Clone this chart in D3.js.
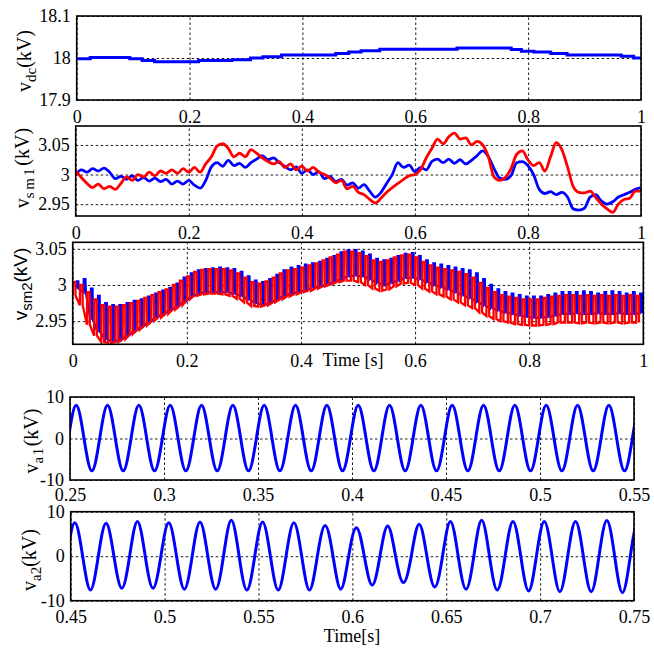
<!DOCTYPE html>
<html>
<head>
<meta charset="utf-8">
<script src="https://cdn.jsdelivr.net/npm/d3@7"></script>
<style>
  body { margin: 0; background: #fff; }
</style>
</head>
<body>
<svg width="654" height="648"></svg>
<script>
// ---- data ----
// v_dc: stair steps (time, kV)
let vdcT = [0, 0.024, 0.094, 0.116, 0.138, 0.216, 0.275, 0.308, 0.33, 0.363, 0.459, 0.482, 0.504, 0.537, 0.674, 0.77, 0.788, 0.81, 0.84, 0.869, 0.965, 0.987, 1],
    vdcV = [17.998, 18.001, 17.998, 17.994, 17.991, 17.994, 17.996, 18.0, 18.003, 18.007, 18.011, 18.014, 18.017, 18.021, 18.024, 18.02, 18.016, 18.014, 18.011, 18.007, 18.004, 18.0, 18.0];

// v_sm1: sampled every 10 ms
let sm1Step = 0.01;
let sm1Blue = [3.000, 3.008, 3.004, 3.010, 3.006, 3.011, 3.004, 2.993, 2.997, 2.992,
               2.998, 2.990, 2.995, 2.989, 2.994, 2.988, 2.992, 2.984, 2.989, 2.984,
               2.990, 2.982, 2.977, 2.990, 3.013, 3.020, 3.014, 3.024, 3.015, 3.019,
               3.012, 3.020, 3.026, 3.032, 3.025, 3.028, 3.020, 3.014, 3.008, 3.013,
               3.002, 3.008, 3.000, 3.005, 2.993, 2.997, 2.988, 2.992, 2.982, 2.986,
               2.977, 2.983, 2.972, 2.962, 2.970, 2.985, 3.000, 3.020, 3.012, 3.016,
               3.005, 3.012, 3.008, 3.022, 3.026, 3.020, 3.026, 3.019, 3.025, 3.018,
               3.024, 3.032, 3.040, 3.030, 3.010, 2.994, 2.992, 2.998, 3.020, 3.022,
               3.015, 3.000, 2.975, 2.968, 2.971, 2.966, 2.970, 2.962, 2.942, 2.940,
               2.943, 2.962, 2.966, 2.955, 2.950, 2.954, 2.962, 2.966, 2.970, 2.975, 2.978];
let sm1Red  = [3.006, 2.995, 2.985, 2.978, 2.984, 2.976, 2.980, 2.975, 2.985, 2.996,
               2.990, 3.000, 2.996, 3.004, 2.998, 3.006, 3.002, 3.008, 3.002, 3.010,
               3.004, 3.012, 3.004, 3.018, 3.030, 3.048, 3.052, 3.044, 3.030, 3.036,
               3.030, 3.042, 3.036, 3.028, 3.022, 3.018, 3.022, 3.012, 3.018, 3.008,
               3.014, 3.006, 3.012, 3.004, 3.000, 2.994, 2.986, 2.990, 2.976, 2.980,
               2.970, 2.966, 2.958, 2.952, 2.960, 2.970, 2.978, 2.985, 2.992, 2.998,
               3.000, 3.008, 3.028, 3.044, 3.060, 3.052, 3.064, 3.070, 3.060, 3.062,
               3.050, 3.056, 3.050, 3.030, 2.996, 2.990, 2.995, 3.010, 3.034, 3.040,
               3.025, 3.015, 3.020, 3.006, 3.030, 3.054, 3.042, 3.013, 2.980, 2.970,
               2.969, 2.972, 2.961, 2.950, 2.942, 2.936, 2.950, 2.958, 2.960, 2.972, 2.972];

// v_sm2: one high and one low level per ripple cycle (12.5 ms)
let sm2Period = 0.0125;
let sm2BlueHi = [3.005, 3.008, 2.995, 2.985, 2.975, 2.972, 2.972, 2.975, 2.978, 2.980,
                 2.984, 2.988, 2.992, 2.996, 3.002, 3.010, 3.016, 3.020, 3.022, 3.023,
                 3.024, 3.023, 3.022, 3.018, 3.012, 3.006, 3.004, 3.008, 3.014, 3.020,
                 3.024, 3.026, 3.028, 3.030, 3.032, 3.036, 3.040, 3.045, 3.048, 3.048,
                 3.046, 3.042, 3.036, 3.034, 3.036, 3.040, 3.043, 3.044, 3.040, 3.034,
                 3.030, 3.028, 3.026, 3.024, 3.022, 3.020, 3.016, 3.008, 3.000, 2.994,
                 2.990, 2.988, 2.986, 2.984, 2.984, 2.984, 2.986, 2.988, 2.990, 2.990,
                 2.990, 2.991, 2.990, 2.988, 2.990, 2.991, 2.990, 2.988, 2.990, 2.988];
let sm2BlueLo = [2.995, 2.990, 2.952, 2.935, 2.925, 2.922, 2.924, 2.930, 2.936, 2.942,
                 2.948, 2.955, 2.960, 2.965, 2.970, 2.977, 2.984, 2.988, 2.990, 2.990,
                 2.990, 2.990, 2.988, 2.985, 2.980, 2.975, 2.972, 2.975, 2.980, 2.985,
                 2.988, 2.990, 2.993, 2.996, 2.998, 3.000, 3.004, 3.008, 3.012, 3.013,
                 3.012, 3.008, 3.003, 3.000, 3.003, 3.006, 3.010, 3.010, 3.008, 3.004,
                 3.000, 2.997, 2.994, 2.990, 2.986, 2.982, 2.977, 2.972, 2.968, 2.965,
                 2.962, 2.960, 2.958, 2.956, 2.955, 2.955, 2.956, 2.958, 2.960, 2.960,
                 2.961, 2.960, 2.960, 2.961, 2.960, 2.960, 2.961, 2.960, 2.960, 2.961];
let sm2RedHi  = [3.004, 3.000, 2.990, 2.980, 2.972, 2.970, 2.970, 2.972, 2.975, 2.978,
                 2.982, 2.986, 2.990, 2.994, 3.000, 3.006, 3.012, 3.018, 3.021, 3.022,
                 3.022, 3.022, 3.020, 3.016, 3.010, 3.004, 3.002, 3.005, 3.010, 3.016,
                 3.020, 3.022, 3.024, 3.027, 3.030, 3.034, 3.038, 3.042, 3.046, 3.046,
                 3.044, 3.040, 3.034, 3.032, 3.034, 3.038, 3.041, 3.042, 3.038, 3.032,
                 3.027, 3.024, 3.022, 3.020, 3.018, 3.015, 3.010, 3.003, 2.996, 2.990,
                 2.986, 2.984, 2.982, 2.980, 2.980, 2.980, 2.982, 2.984, 2.985, 2.986,
                 2.986, 2.985, 2.986, 2.985, 2.986, 2.985, 2.986, 2.985, 2.986, 2.985];
let sm2RedLo  = [2.985, 2.972, 2.945, 2.930, 2.921, 2.920, 2.921, 2.925, 2.932, 2.938,
                 2.944, 2.950, 2.955, 2.960, 2.966, 2.972, 2.980, 2.985, 2.987, 2.988,
                 2.988, 2.987, 2.985, 2.981, 2.976, 2.971, 2.970, 2.972, 2.976, 2.980,
                 2.984, 2.987, 2.990, 2.992, 2.995, 2.998, 3.001, 3.004, 3.006, 3.006,
                 3.004, 3.000, 2.995, 2.992, 2.994, 2.998, 3.002, 3.003, 3.000, 2.995,
                 2.991, 2.987, 2.984, 2.980, 2.976, 2.972, 2.968, 2.962, 2.957, 2.953,
                 2.950, 2.948, 2.946, 2.945, 2.944, 2.944, 2.945, 2.946, 2.948, 2.948,
                 2.948, 2.947, 2.948, 2.947, 2.948, 2.947, 2.948, 2.947, 2.948, 2.948];

// v_a1, v_a2: zero crossings and extrema every quarter cycle (60 Hz)
let vaStep  = 1 / 240;
let va1Start = 0.24913;
let va1 = [0, 8.0, 0, -7.8, 0, 8.0, 0, -7.8, 0, 8.0, 0, -7.8, 0, 8.0, 0, -7.8, 0, 8.0, 0, -7.8,
           0, 8.0, 0, -7.8, 0, 8.0, 0, -7.8, 0, 8.0, 0, -7.8, 0, 8.0, 0, -7.8, 0, 8.0, 0, -7.8,
           0, 8.0, 0, -7.8, 0, 8.0, 0, -7.8, 0, 8.0, 0, -7.8, 0, 8.0, 0, -7.8, 0, 8.0, 0, -7.8,
           0, 8.0, 0, -7.8, 0, 8.0, 0, -7.8, 0, 8.0, 0, -7.8, 0, 8.0, 0];
let va2Start = 0.44803;
let va2 = [0, 7.5, 0, -7.6, 0, 7.4, 0, -7.2, 0, 7.8, 0, -7.2, 0, 7.5, 0, -7.4, 0, 7.7, 0, -7.4,
           0, 8.1, 0, -7.6, 0, 7.7, 0, -7.6, 0, 7.5, 0, -7.6, 0, 6.9, 0, -7.4, 0, 6.4, 0, -6.5,
           0, 6.8, 0, -5.9, 0, 7.2, 0, -6.9, 0, 7.8, 0, -7.4, 0, 8.1, 0, -7.6, 0, 7.8, 0, -7.8,
           0, 7.8, 0, -8.0, 0, 7.8, 0, -8.0, 0, 8.0, 0, -8.2, 0, 7.7, 0];

// ticks
let timeTicks = [0, 0.2, 0.4, 0.6, 0.8, 1],
    va1Ticks  = [0.25, 0.3, 0.35, 0.4, 0.45, 0.5, 0.55],
    va2Ticks  = [0.45, 0.5, 0.55, 0.6, 0.65, 0.7, 0.75],
    vdcTicks  = [17.9, 18, 18.1],
    smTicks   = [2.95, 3, 3.05],
    vaTicks   = [-10, 0, 10];

let svg = d3.select('svg'),
    clipN = 0;

let serif = '"Liberation Serif", "Times New Roman", serif',
    sans  = '"Liberation Sans", Arial, sans-serif';

function panel(o) {
  let x = d3.scaleLinear().domain(o.xDomain).range([o.left, o.right]),
      y = d3.scaleLinear().domain(o.yDomain).range([o.bottom, o.top]);
  let g = svg.append('g');
  let id = 'clip' + (++clipN);
  svg.append('clipPath').attr('id', id)
    .append('rect')
      .attr('x', o.left).attr('y', o.top)
      .attr('width', o.right - o.left).attr('height', o.bottom - o.top);

  // dotted grid
  g.append('g')
    .attr('transform', `translate(0, ${o.bottom})`)
    .call(d3.axisBottom(x).tickValues(o.xTicks).tickSize(o.top - o.bottom).tickFormat(''))
    .call(a => a.select('.domain').remove());
  g.append('g')
    .attr('transform', `translate(${o.left}, 0)`)
    .call(d3.axisLeft(y).tickValues(o.yTicks).tickSize(o.left - o.right).tickFormat(''))
    .call(a => a.select('.domain').remove());
  g.selectAll('.tick line')
    .attr('stroke', '#000')
    .attr('stroke-width', 0.9)
    .attr('stroke-dasharray', '2.5,2.5');

  // tick labels
  g.append('g')
    .attr('transform', `translate(0, ${o.bottom})`)
    .call(d3.axisBottom(x).tickValues(o.xTicks).tickSize(0).tickPadding(o.xPad || 10).tickFormat(String))
    .call(a => a.select('.domain').remove());
  g.append('g')
    .attr('transform', `translate(${o.left}, 0)`)
    .call(d3.axisLeft(y).tickValues(o.yTicks).tickSize(0).tickPadding(6).tickFormat(String))
    .call(a => a.select('.domain').remove());
  g.selectAll('.tick text')
    .attr('font-family', serif)
    .attr('font-size', 18)
    .attr('fill', '#000');

  let plot = svg.append('g').attr('clip-path', `url(#${id})`);

  // y label with subscript
  let lab = svg.append('text')
    .attr('transform', `translate(${o.labelX}, ${o.labelY}) rotate(-90)`)
    .attr('text-anchor', 'middle')
    .attr('font-family', o.labelFont)
    .attr('font-size', o.labelSize);
  lab.append('tspan').text('v');
  lab.append('tspan').attr('dy', 5).attr('font-size', o.subSize)
    .attr('letter-spacing', o.subSpacing || 0).text(o.sub);
  lab.append('tspan').attr('dy', -5).text('(kV)');

  return { x, y, g, plot, o };
}

function frame(p) {
  let o = p.o;
  svg.append('rect')
    .attr('x', o.left).attr('y', o.top)
    .attr('width', o.right - o.left).attr('height', o.bottom - o.top)
    .attr('fill', 'none')
    .attr('stroke', '#000')
    .attr('stroke-width', 1.6);
}

// ---- panel 1: v_dc ----
let p1 = panel({ left: 76.7, right: 641, top: 16, bottom: 100,
                 xDomain: [0, 1], yDomain: [17.9, 18.1], xTicks: timeTicks, yTicks: vdcTicks,
                 labelX: 31, labelY: 61, labelFont: serif, labelSize: 20, subSize: 15, sub: 'dc' });
p1.plot.append('path')
  .datum(vdcT.map((t, i) => [t, vdcV[i]]))
  .attr('fill', 'none').attr('stroke', '#0000ff').attr('stroke-width', 3)
  .attr('d', d3.line().x(d => p1.x(d[0])).y(d => p1.y(d[1])).curve(d3.curveStepAfter));
frame(p1);

// ---- panel 2: v_sm1 ----
let p2 = panel({ left: 75.7, right: 641, top: 126, bottom: 216,
                 xDomain: [0, 1], yDomain: [2.930, 3.082], xTicks: timeTicks, yTicks: smTicks,
                 labelX: 29, labelY: 168, labelFont: serif, labelSize: 20, subSize: 15, subSpacing: 2.5, sub: 'sm1' });
let sm1Line = d3.line().x((d, i) => p2.x(i * sm1Step)).y(d => p2.y(d)).curve(d3.curveMonotoneX);
p2.plot.append('path').datum(sm1Blue)
  .attr('fill', 'none').attr('stroke', '#0000ff').attr('stroke-width', 2.8).attr('d', sm1Line);
p2.plot.append('path').datum(sm1Red)
  .attr('fill', 'none').attr('stroke', '#ff0000').attr('stroke-width', 2.8).attr('d', sm1Line);
frame(p2);

// ---- panel 3: v_sm2 ----
let p3 = panel({ left: 72.7, right: 643.3, top: 242.3, bottom: 344.3,
                 xDomain: [0, 1], yDomain: [2.918, 3.059], xTicks: timeTicks, yTicks: smTicks,
                 labelX: 27, labelY: 284, labelFont: sans, labelSize: 19, subSize: 15, sub: 'sm2' });

// one pulse per ripple cycle, rising from the low level to the high level
function pulses(hi, lo, offset, width, edge) {
  let pts = [];
  hi.forEach((h, k) => {
    let t0 = (k + offset) * sm2Period;
    pts.push([t0, lo[k]]);
    pts.push([t0 + edge * sm2Period, h]);
    pts.push([t0 + (edge + width) * sm2Period, h]);
    pts.push([t0 + (2 * edge + width) * sm2Period, lo[k]]);
  });
  return pts;
}
let sm2Line = d3.line().x(d => p3.x(d[0])).y(d => p3.y(d[1]));
p3.plot.append('path').datum(pulses(sm2BlueHi, sm2BlueLo, 0.5, 0.22, 0.06))
  .attr('fill', 'none').attr('stroke', '#0000ff').attr('stroke-width', 2.3).attr('d', sm2Line);
p3.plot.append('path').datum(pulses(sm2RedHi, sm2RedLo, 0, 0.34, 0.03))
  .attr('fill', 'none').attr('stroke', '#ff0000').attr('stroke-width', 2.3).attr('d', sm2Line);
frame(p3);
svg.append('text')
  .attr('x', 353).attr('y', 366)
  .attr('text-anchor', 'middle')
  .attr('font-family', serif)
  .attr('font-size', 18)
  .text('Time [s]');

// ---- panel 4: v_a1 ----
let p4 = panel({ left: 70, right: 634, top: 397, bottom: 480,
                 xDomain: [0.25, 0.55], yDomain: [-10, 10], xTicks: va1Ticks, yTicks: vaTicks, xPad: 8,
                 labelX: 38, labelY: 441, labelFont: serif, labelSize: 20, subSize: 15, subSpacing: 1.5, sub: 'a1' });
p4.plot.append('path').datum(va1)
  .attr('fill', 'none').attr('stroke', '#0000ff').attr('stroke-width', 3)
  .attr('d', d3.line().x((d, i) => p4.x(va1Start + i * vaStep)).y(d => p4.y(d)).curve(d3.curveNatural));
frame(p4);

// ---- panel 5: v_a2 ----
let p5 = panel({ left: 70.7, right: 634, top: 511.7, bottom: 600.7,
                 xDomain: [0.45, 0.75], yDomain: [-10, 10], xTicks: va2Ticks, yTicks: vaTicks,
                 labelX: 36, labelY: 560, labelFont: serif, labelSize: 20, subSize: 15, sub: 'a2' });
p5.plot.append('path').datum(va2)
  .attr('fill', 'none').attr('stroke', '#0000ff').attr('stroke-width', 3)
  .attr('d', d3.line().x((d, i) => p5.x(va2Start + i * vaStep)).y(d => p5.y(d)).curve(d3.curveNatural));
frame(p5);
svg.append('text')
  .attr('x', 352).attr('y', 642)
  .attr('text-anchor', 'middle')
  .attr('font-family', serif)
  .attr('font-size', 18)
  .text('Time[s]');
</script>
</body>
</html>
